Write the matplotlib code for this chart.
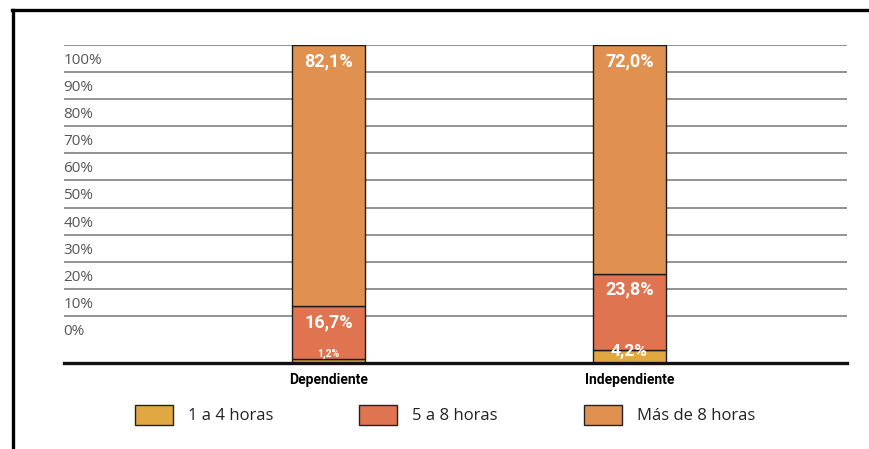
import matplotlib
matplotlib.use("Agg")
from matplotlib import pyplot as plt
from matplotlib.lines import Line2D
from matplotlib.patches import Patch
import matplotlib.transforms as mtransforms

#
# data
#
categories = ['Dependiente', 'Independiente']
series_names = ['1 a 4 horas', '5 a 8 horas', 'Más de 8 horas']
uno_a_cuatro = [1.2, 4.2]
cinco_a_ocho = [16.7, 23.8]
mas_de_ocho = [82.1, 72.0]
tick_labels = ['100%', '90%', '80%', '70%', '60%', '50%', '40%', '30%', '20%', '10%', '0%']

colors = ['#E1A841', '#E07350', '#E0914F']
plt.rcParams['font.family'] = ['Open Sans', 'DejaVu Sans']

fig = plt.figure(figsize=(8.7, 4.49), dpi=100)
ax = fig.add_axes([64 / 870, 86 / 449, 783 / 870, 318 / 449])

#
# stacked bars
#
series = [uno_a_cuatro, cinco_a_ocho, mas_de_ocho]
x = list(range(len(categories)))
bottoms = [0.0] * len(categories)
for vals, name, col in zip(series, series_names, colors):
    ax.bar(x, vals, bottom=bottoms, width=0.2425, color=col,
           edgecolor='#1a1a1a', linewidth=1.0, label=name, zorder=3)
    for i, v in enumerate(vals):
        txt = ('%.1f%%' % v).replace('.', ',')
        if bottoms[i] == 0 and v < 10:
            # small bottom segment: label sits on the baseline
            size = 12.5 if v > 3 else 7.5
            ax.annotate(txt, (i, 0), xytext=(0, 3), textcoords='offset points',
                        ha='center', va='bottom', color='white',
                        fontsize=size, fontweight='bold', family='Roboto', zorder=4)
        else:
            ax.annotate(txt, (i, bottoms[i] + v), xytext=(0, -11.5),
                        textcoords='offset points', ha='center', va='center',
                        color='white', fontsize=13, fontweight='bold',
                        family='Roboto', zorder=4)
        bottoms[i] += v

#
# odd layout of the original: grid lines evenly spaced, labels between them
#
step = 8.52
grid_pos = [100 - step * k for k in range(len(tick_labels))]
for g in grid_pos:
    ax.axhline(g, color='#808080', linewidth=1.2, zorder=1)
trans = mtransforms.blended_transform_factory(ax.transAxes, ax.transData)
for k, lab in enumerate(tick_labels):
    ax.text(-0.001, 100 - step * (k + 0.5) - 0.6, lab, transform=trans, ha='left',
            va='center', fontsize=11, color='#555555')

ax.set_xlim(-0.879, 1.7226)
ax.set_ylim(0, 100)
ax.set_yticks([])
ax.set_xticks(x)
ax.set_xticklabels(categories, fontsize=10, fontweight='bold', family='Roboto')
ax.tick_params(axis='x', length=0, pad=7.5)
for s in ['top', 'left', 'right']:
    ax.spines[s].set_visible(False)
ax.spines['bottom'].set_linewidth(2.4)
ax.spines['bottom'].set_color('#111111')
ax.spines['bottom'].set_zorder(5)

#
# legend
#
handles = [Patch(facecolor=c, edgecolor='#222222', linewidth=1.0) for c in colors]
fig.legend(handles, series_names, loc='center left', ncol=3,
           bbox_to_anchor=(135 / 870, 34 / 449), bbox_transform=fig.transFigure,
           frameon=False, borderpad=0, borderaxespad=0, fontsize=12,
           handlelength=2.28, handleheight=1.5, handletextpad=0.9,
           columnspacing=5.15, labelcolor='#222222')

#
# outer frame (top and left only)
#
fig.add_artist(Line2D([12 / 870, 1.0], [1 - 10 / 449, 1 - 10 / 449],
                      transform=fig.transFigure, color='black', linewidth=2.4))
fig.add_artist(Line2D([13 / 870, 13 / 870], [0.0, 1 - 10 / 449],
                      transform=fig.transFigure, color='black', linewidth=2.4))

fig.savefig('out.png', dpi=100)
